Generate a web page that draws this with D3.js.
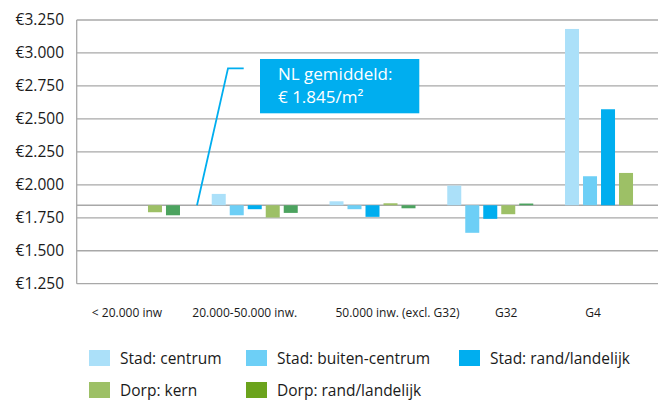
<!DOCTYPE html>
<html>
<head>
<meta charset="utf-8">
<script src="https://cdn.jsdelivr.net/npm/d3@7"></script>
<style>
  body { margin: 0; background: #fff; }
  svg text { font-family: "Open Sans", "Noto Sans", sans-serif; fill: #1a1a1a; }
</style>
</head>
<body>
<svg id="chart" width="658" height="401"></svg>
<script>
// ************************************************************************************************** //
// Data

var categories = ['< 20.000 inw', '20.000-50.000 inw.', '50.000 inw. (excl. G32)', 'G32', 'G4'];
var series = ['Stad: centrum', 'Stad: buiten-centrum', 'Stad: rand/landelijk', 'Dorp: kern', 'Dorp: rand/landelijk'];

// price per m2 (euro x 1000), null = no bar
var stadCentrum   = [null,  1.931, 1.875, 1.994, 3.182];
var stadBuiten    = [null,  1.769, 1.815, 1.636, 2.065];
var stadRand      = [null,  1.815, 1.757, 1.742, 2.573];
var dorpKern      = [1.792, 1.752, 1.860, 1.777, 2.090];
var dorpRand      = [1.769, 1.787, 1.822, 1.858, null];

var nlAverage = 1.845;
var yTicks = [1.25, 1.5, 1.75, 2.0, 2.25, 2.5, 2.75, 3.0, 3.25];

// ************************************************************************************************** //
// Setup

var width = 658, height = 401;
var barColors = ['#abe0f9', '#6dcff6', '#00aeef', '#9dc066', '#4ca35f'];
var legendColors = ['#abe0f9', '#6dcff6', '#00aeef', '#9dc066', '#6ba31c'];
var gridColor = '#a8a8a8';

var values = [stadCentrum, stadBuiten, stadRand, dorpKern, dorpRand];
var svg = d3.select('#chart');

var y = d3.scaleLinear().domain([1.25, 3.25]).range([283.7, 20]);
var x = d3.scaleBand().domain(categories).range([78.1, 666.9]).padding(0);
var xInner = d3.scaleBand().domain(series).range([-43, 43]).paddingInner(0.222).paddingOuter(0);

var euro = function(d){ return '€' + d3.format('.3f')(d).replace('.', '.'); };

// gridlines
svg.append('g').selectAll('line').data(yTicks.concat([nlAverage])).enter().append('line')
  .attr('x1', 76.7).attr('x2', width)
  .attr('y1', function(d){ return y(d); }).attr('y2', function(d){ return y(d); })
  .attr('stroke', gridColor).attr('stroke-width', 1.3);

// y axis line
svg.append('line').attr('x1', 76.7).attr('x2', 76.7).attr('y1', y(3.25)).attr('y2', y(1.25))
  .attr('stroke', gridColor).attr('stroke-width', 1.3);

// y labels
svg.append('g').selectAll('text').data(yTicks).enter().append('text')
  .attr('x', 64).attr('y', function(d){ return y(d) + 5; })
  .attr('text-anchor', 'end').style('font-size', '15.5px')
  .text(function(d){ return '€' + d3.format('.3f')(d); });

// bars
var bars = [];
categories.forEach(function(c, ci){
  series.forEach(function(s, si){
    var v = values[si][ci];
    if(v !== null) bars.push({ cat: c, ser: s, si: si, v: v });
  });
});

svg.append('g').selectAll('rect').data(bars).enter().append('rect')
  .attr('x', function(d){ return x(d.cat) + x.bandwidth()/2 + xInner(d.ser); })
  .attr('width', xInner.bandwidth())
  .attr('y', function(d){ return Math.min(y(d.v), y(nlAverage)); })
  .attr('height', function(d){ return Math.abs(y(d.v) - y(nlAverage)); })
  .attr('fill', function(d){ return barColors[d.si]; });

// category labels
var labelShift = [-10, -10, 25, 16, -15];
svg.append('g').selectAll('text').data(categories).enter().append('text')
  .attr('x', function(d, i){ return x(d) + x.bandwidth()/2 + labelShift[i]; })
  .attr('y', 317)
  .attr('text-anchor', 'middle').style('font-size', '12px')
  .text(function(d){ return d; });

// callout
var calloutPath = d3.line()([[197, y(nlAverage)], [228, 68.3], [243.7, 68.3]]);
svg.append('path').attr('d', calloutPath).attr('fill', 'none')
  .attr('stroke', '#00aeef').attr('stroke-width', 1.8);

svg.append('rect').attr('x', 260).attr('y', 59).attr('width', 159.3).attr('height', 54.3).attr('fill', '#00aeef');
svg.append('text').attr('x', 278).attr('y', 80).style('font-size', '17px').style('fill', '#fff')
  .text('NL gemiddeld:');
svg.append('text').attr('x', 278).attr('y', 103.3).style('font-size', '17px').style('fill', '#fff')
  .text('€ 1.845/m²');

// legend
var legendX = [89, 246, 459];
var legendY = [350, 382];
var legend = svg.append('g').selectAll('g').data(series).enter().append('g')
  .attr('transform', function(d, i){ return 'translate(' + legendX[i % 3] + ',' + legendY[Math.floor(i / 3)] + ')'; });
legend.append('rect').attr('width', 21).attr('height', 16)
  .attr('fill', function(d, i){ return legendColors[i]; });
legend.append('text').attr('x', 31).attr('y', 14).style('font-size', '15.5px')
  .text(function(d){ return d; });
</script>
</body>
</html>
